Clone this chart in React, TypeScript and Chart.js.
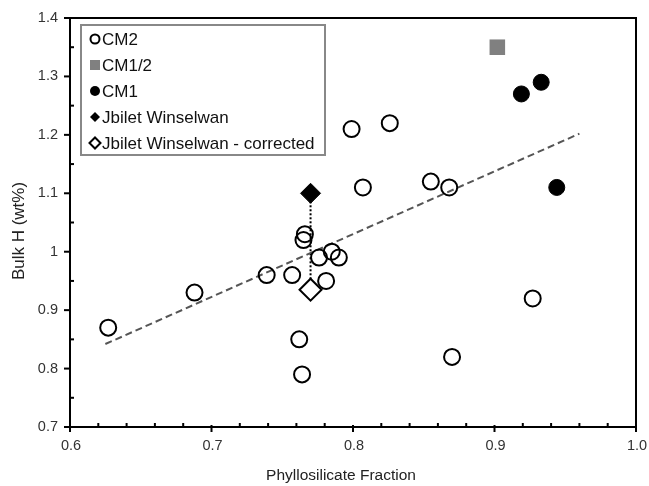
import React, { useEffect, useRef } from 'react';
import { Chart, registerables } from 'chart.js';

Chart.register(...registerables);

// ---- data ----
const cm2X = [0.627, 0.688, 0.739, 0.757, 0.762, 0.764, 0.766, 0.765, 0.776, 0.785, 0.79, 0.781, 0.799, 0.826, 0.807, 0.855, 0.868, 0.87, 0.927];
const cm2Y = [0.87, 0.93, 0.96, 0.96, 0.85, 0.79, 1.03, 1.02, 0.99, 1.0, 0.99, 0.95, 1.21, 1.22, 1.11, 1.12, 1.11, 0.82, 0.92];
const cm12X = [0.902];
const cm12Y = [1.35];
const cm1X = [0.919, 0.933, 0.944];
const cm1Y = [1.27, 1.29, 1.11];
const jwX = [0.77];
const jwY = [1.1];
const jwcX = [0.77];
const jwcY = [0.935];
const trendX = [0.625, 0.96];
const trendY = [0.842, 1.202];

const xTickValues = [0.6, 0.7, 0.8, 0.9, 1.0];
const xTickLabels = ['0.6', '0.7', '0.8', '0.9', '1.0'];
const xMinorValues = [0.62, 0.64, 0.66, 0.68, 0.72, 0.74, 0.76, 0.78, 0.82, 0.84, 0.86, 0.88, 0.92, 0.94, 0.96, 0.98];
const yTickValues = [0.7, 0.8, 0.9, 1.0, 1.1, 1.2, 1.3, 1.4];
const yTickLabels = ['0.7', '0.8', '0.9', '1', '1.1', '1.2', '1.3', '1.4'];
const yMinorValues = [0.75, 0.85, 0.95, 1.05, 1.15, 1.25, 1.35];

const seriesLabels = ['CM2', 'CM1/2', 'CM1', 'Jbilet Winselwan', 'Jbilet Winselwan - corrected'];
const xTitle = 'Phyllosilicate Fraction';
const yTitle = 'Bulk H (wt%)';

const pts = (xs: number[], ys: number[]) => xs.map((x, i) => ({ x, y: ys[i] }));

const FONT = '"Liberation Sans", Arial, sans-serif';

const drawMarker = (ctx: CanvasRenderingContext2D, kind: number, x: number, y: number) => {
  ctx.save();
  ctx.lineWidth = 2;
  ctx.strokeStyle = '#000';
  ctx.fillStyle = '#000';
  if (kind === 0) {
    ctx.beginPath();
    ctx.arc(x, y, 4.5, 0, Math.PI * 2);
    ctx.stroke();
  } else if (kind === 1) {
    ctx.fillStyle = '#808080';
    ctx.fillRect(x - 5, y - 5, 10, 10);
  } else if (kind === 2) {
    ctx.beginPath();
    ctx.arc(x, y, 5, 0, Math.PI * 2);
    ctx.fill();
  } else {
    const r = kind === 3 ? 5 : 5.5;
    ctx.beginPath();
    ctx.moveTo(x - r, y);
    ctx.lineTo(x, y - r);
    ctx.lineTo(x + r, y);
    ctx.lineTo(x, y + r);
    ctx.closePath();
    if (kind === 3) ctx.fill();
    else ctx.stroke();
  }
  ctx.restore();
};

const framePlugin = {
  id: 'frameAxes',
  beforeDatasetsDraw(chart: any) {
    const { ctx, chartArea: a, scales } = chart;
    const xs = scales.x;
    const ys = scales.y;
    ctx.save();
    ctx.strokeStyle = '#000';
    ctx.lineWidth = 2;
    ctx.strokeRect(a.left, a.top, a.right - a.left, a.bottom - a.top);
    ctx.lineWidth = 2;
    xTickValues.forEach((v) => {
      const px = xs.getPixelForValue(v);
      ctx.beginPath();
      ctx.moveTo(px, a.bottom - 2);
      ctx.lineTo(px, a.bottom + 5);
      ctx.stroke();
    });
    xMinorValues.forEach((v) => {
      const px = xs.getPixelForValue(v);
      ctx.beginPath();
      ctx.moveTo(px, a.bottom - 4);
      ctx.lineTo(px, a.bottom);
      ctx.stroke();
    });
    yTickValues.forEach((v) => {
      const py = ys.getPixelForValue(v);
      ctx.beginPath();
      ctx.moveTo(a.left - 6, py);
      ctx.lineTo(a.left, py);
      ctx.stroke();
    });
    yMinorValues.forEach((v) => {
      const py = ys.getPixelForValue(v);
      ctx.beginPath();
      ctx.moveTo(a.left, py);
      ctx.lineTo(a.left + 4, py);
      ctx.stroke();
    });
    // tick labels
    ctx.fillStyle = '#333';
    ctx.font = `14.5px ${FONT}`;
    ctx.textAlign = 'center';
    ctx.textBaseline = 'middle';
    xTickValues.forEach((v, i) => {
      ctx.fillText(xTickLabels[i], xs.getPixelForValue(v) + 1, a.bottom + 19);
    });
    ctx.textAlign = 'right';
    yTickValues.forEach((v, i) => {
      ctx.fillText(yTickLabels[i], a.left - 12, ys.getPixelForValue(v));
    });
    // titles
    ctx.fillStyle = '#222';
    ctx.font = `15.5px ${FONT}`;
    ctx.textAlign = 'center';
    ctx.fillText(xTitle, 341, 476);
    ctx.font = `17px ${FONT}`;
    ctx.translate(19, 231);
    ctx.rotate(-Math.PI / 2);
    ctx.fillText(yTitle, 0, 0);
    ctx.restore();
  },
  afterDraw(chart: any) {
    const { ctx } = chart;
    ctx.save();
    const left = 81;
    const top = 25;
    const w = 244;
    const h = 130;
    ctx.fillStyle = '#fff';
    ctx.fillRect(left, top, w, h);
    ctx.strokeStyle = '#888';
    ctx.lineWidth = 2;
    ctx.strokeRect(left, top, w, h);
    ctx.font = `17px ${FONT}`;
    ctx.textAlign = 'left';
    ctx.textBaseline = 'middle';
    seriesLabels.forEach((lab, i) => {
      const cy = 39 + i * 26;
      drawMarker(ctx, i, 95, cy);
      ctx.fillStyle = '#111';
      ctx.fillText(lab, 102, cy + 1);
    });
    ctx.restore();
  },
};

export default function App() {
  const ref = useRef<HTMLCanvasElement | null>(null);
  useEffect(() => {
    if (!ref.current) return;
    const chart = new Chart(ref.current, {
      type: 'scatter',
      data: {
        datasets: [
          {
            label: seriesLabels[0],
            data: pts(cm2X, cm2Y),
            pointStyle: 'circle',
            pointRadius: 8,
            pointBorderWidth: 2,
            borderColor: '#000',
            backgroundColor: 'rgba(0,0,0,0)',
            order: 0,
          },
          {
            label: seriesLabels[1],
            data: pts(cm12X, cm12Y),
            pointStyle: 'rect',
            pointRadius: 11,
            pointBorderWidth: 0,
            borderColor: '#808080',
            backgroundColor: '#808080',
            order: 0,
          },
          {
            label: seriesLabels[2],
            data: pts(cm1X, cm1Y),
            pointStyle: 'circle',
            pointRadius: 8,
            pointBorderWidth: 1,
            borderColor: '#000',
            backgroundColor: '#000',
            order: 0,
          },
          {
            label: seriesLabels[3],
            data: pts(jwX, jwY),
            pointStyle: 'rectRot',
            pointRadius: 10,
            pointBorderWidth: 1,
            borderColor: '#000',
            backgroundColor: '#000',
            order: 0,
          },
          {
            label: seriesLabels[4],
            data: pts(jwcX, jwcY),
            pointStyle: 'rectRot',
            pointRadius: 11,
            pointBorderWidth: 2,
            borderColor: '#000',
            backgroundColor: '#fff',
            order: 0,
          },
          {
            label: 'trend',
            data: pts(trendX, trendY),
            showLine: true,
            pointRadius: 0,
            borderColor: '#555',
            borderWidth: 2,
            borderDash: [7, 4],
            order: 1,
          },
          {
            label: 'correction',
            data: pts([jwX[0], jwcX[0]], [jwY[0], jwcY[0]]),
            showLine: true,
            pointRadius: 0,
            borderColor: '#000',
            borderWidth: 2,
            borderDash: [2, 2],
            order: 1,
          },
        ],
      },
      options: {
        animation: false,
        responsive: true,
        maintainAspectRatio: false,
        layout: { padding: { left: 70, right: 10, top: 18, bottom: 59 } },
        plugins: { legend: { display: false }, tooltip: { enabled: false } },
        scales: {
          x: { type: 'linear', min: 0.6, max: 1.0, display: false },
          y: { type: 'linear', min: 0.7, max: 1.4, display: false },
        },
      },
      plugins: [framePlugin],
    });
    return () => chart.destroy();
  }, []);
  return (
    <div style={{ position: 'fixed', left: 0, top: 0, width: 649, height: 486, background: '#fff' }}>
      <canvas ref={ref} />
    </div>
  );
}
